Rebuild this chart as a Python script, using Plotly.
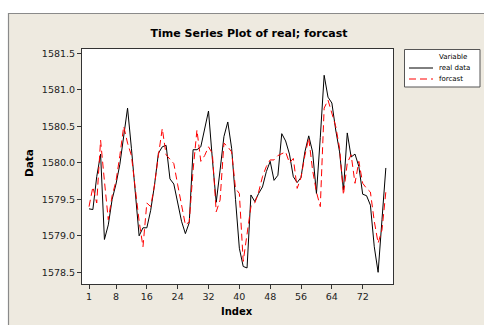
import plotly.graph_objects as go

# ---- data ----
index = list(range(1, 79))
real_data = [
    1579.37, 1579.36, 1579.81, 1580.12, 1578.95, 1579.15, 1579.50, 1579.71, 1579.98, 1580.38,
    1580.75, 1580.20, 1579.60, 1579.00, 1579.11, 1579.11, 1579.35, 1579.70, 1580.13, 1580.22,
    1580.24, 1579.78, 1579.71, 1579.45, 1579.20, 1579.03, 1579.18, 1580.18, 1580.18, 1580.22,
    1580.45, 1580.71, 1580.05, 1579.46, 1579.90, 1580.36, 1580.56, 1580.20, 1579.50, 1578.83,
    1578.58, 1578.56, 1579.56, 1579.47, 1579.58, 1579.67, 1579.88, 1580.02, 1579.76, 1579.83,
    1580.40, 1580.30, 1580.12, 1579.81, 1579.73, 1579.80, 1580.15, 1580.37, 1580.15, 1579.58,
    1580.35, 1581.20, 1580.90, 1580.82, 1580.45, 1580.15, 1579.63, 1580.41, 1580.08, 1580.12,
    1579.95, 1579.57, 1579.55, 1579.42, 1578.85, 1578.50, 1579.22, 1579.93,
]
forcast = [
    1579.40, 1579.67, 1579.45, 1580.31, 1579.75, 1579.22, 1579.55, 1579.75, 1580.10, 1580.50,
    1580.27, 1580.10, 1579.65, 1579.20, 1578.85, 1579.45, 1579.40, 1579.70, 1580.10, 1580.47,
    1580.11, 1580.05, 1579.99, 1579.70, 1579.40, 1579.15, 1579.19, 1579.90, 1580.45, 1580.02,
    1580.10, 1580.22, 1580.13, 1579.33, 1579.49, 1580.27, 1580.22, 1580.15, 1579.65, 1579.58,
    1578.65, 1579.00, 1579.40, 1579.45, 1579.60, 1579.81, 1579.95, 1580.04, 1580.04, 1580.10,
    1580.12, 1580.15, 1580.00, 1580.06, 1579.65, 1579.80, 1580.10, 1580.34, 1579.90, 1579.60,
    1579.40, 1580.75, 1580.86, 1580.68, 1580.50, 1580.20, 1579.56, 1580.00, 1580.11, 1579.72,
    1580.02, 1579.72, 1579.65, 1579.60, 1579.20, 1578.90, 1579.08, 1579.60,
]
series_names = ["real data", "forcast"]
x_ticks = [1, 8, 16, 24, 32, 40, 48, 56, 64, 72]
y_ticks = [1578.5, 1579.0, 1579.5, 1580.0, 1580.5, 1581.0, 1581.5]

# ---- geometry ----
W, H = 484, 325
L, R, T, B = 82, 91, 49, 41
PW, PH = W - L - R, H - T - B


def px(xp):
    return (xp - L) / PW


def py(yp):
    return (H - B - yp) / PH


FONT = "DejaVu Sans"
BEIGE = "#EEEAE0"

fig = go.Figure()
fig.add_trace(go.Scatter(x=index, y=real_data, mode="lines", name=series_names[0],
                         line=dict(color="black", width=1)))
fig.add_trace(go.Scatter(x=index, y=forcast, mode="lines", name=series_names[1],
                         line=dict(color="#FF0000", width=1, dash="7px,4px")))

shapes = [
    # white strips outside the beige frame
    dict(type="rect", xref="paper", yref="paper", x0=px(-20), x1=px(520), y0=py(13), y1=py(-20),
         fillcolor="white", line=dict(width=0), layer="below"),
    dict(type="rect", xref="paper", yref="paper", x0=px(-20), x1=px(8), y0=py(340), y1=py(-20),
         fillcolor="white", line=dict(width=0), layer="below"),
    # frame border
    dict(type="line", xref="paper", yref="paper", x0=px(8), x1=px(520), y0=py(13.5), y1=py(13.5),
         line=dict(color="#8a8a8a", width=1.2), layer="below"),
    dict(type="line", xref="paper", yref="paper", x0=px(8.5), x1=px(8.5), y0=py(13), y1=py(340),
         line=dict(color="#8a8a8a", width=1.2), layer="below"),
    # legend box
    dict(type="rect", xref="paper", yref="paper", x0=px(404.5), x1=px(480), y0=py(87), y1=py(49.5),
         fillcolor="white", line=dict(color="#555555", width=1)),
    dict(type="line", xref="paper", yref="paper", x0=px(409), x1=px(433), y0=py(68), y1=py(68),
         line=dict(color="black", width=1)),
    dict(type="line", xref="paper", yref="paper", x0=px(409), x1=px(433), y0=py(79), y1=py(79),
         line=dict(color="#FF0000", width=1, dash="7px,4px")),
]

annotations = [
    dict(text="Data", xref="paper", yref="paper", x=px(29), y=py(163), textangle=-90,
         showarrow=False, font=dict(family=FONT, size=10.5, color="black", weight="bold"),
         xanchor="center", yanchor="middle"),
    dict(text="Index", xref="paper", yref="paper", x=px(237), y=py(311),
         showarrow=False, font=dict(family=FONT, size=10, color="black", weight="bold"),
         xanchor="center", yanchor="middle"),
    dict(text="Variable", xref="paper", yref="paper", x=px(437), y=py(57),
         showarrow=False, font=dict(family=FONT, size=7, color="black"),
         xanchor="left", yanchor="middle"),
    dict(text=series_names[0], xref="paper", yref="paper", x=px(437), y=py(68),
         showarrow=False, font=dict(family=FONT, size=7, color="black"),
         xanchor="left", yanchor="middle"),
    dict(text=series_names[1], xref="paper", yref="paper", x=px(437), y=py(79),
         showarrow=False, font=dict(family=FONT, size=7, color="black"),
         xanchor="left", yanchor="middle"),
]

fig.update_layout(
    width=W, height=H, autosize=False,
    margin=dict(l=L, r=R, t=T, b=B, pad=0),
    paper_bgcolor=BEIGE, plot_bgcolor="white",
    showlegend=False,
    title=dict(text="<b>Time Series Plot of real; forcast</b>", xref="container", yref="container",
               x=249 / W, y=1 - 33 / H, xanchor="center", yanchor="middle",
               font=dict(family=FONT, size=11, color="black")),
    shapes=shapes,
    annotations=annotations,
    xaxis=dict(range=[-0.82, 79.86], tickvals=x_ticks, ticks="outside", ticklen=4,
               tickcolor="#333333", tickwidth=1, showline=True, mirror=True,
               linecolor="#333333", linewidth=1, showgrid=False, zeroline=False,
               tickfont=dict(family=FONT, size=9.5, color="#222222")),
    yaxis=dict(range=[1578.34, 1581.56], tickvals=y_ticks, tickformat=".1f", ticks="outside",
               ticklen=4, tickcolor="#333333", tickwidth=1, showline=True, mirror=True,
               linecolor="#333333", linewidth=1, showgrid=False, zeroline=False,
               tickfont=dict(family=FONT, size=9.5, color="#222222")),
)

fig.write_html("out.html")
